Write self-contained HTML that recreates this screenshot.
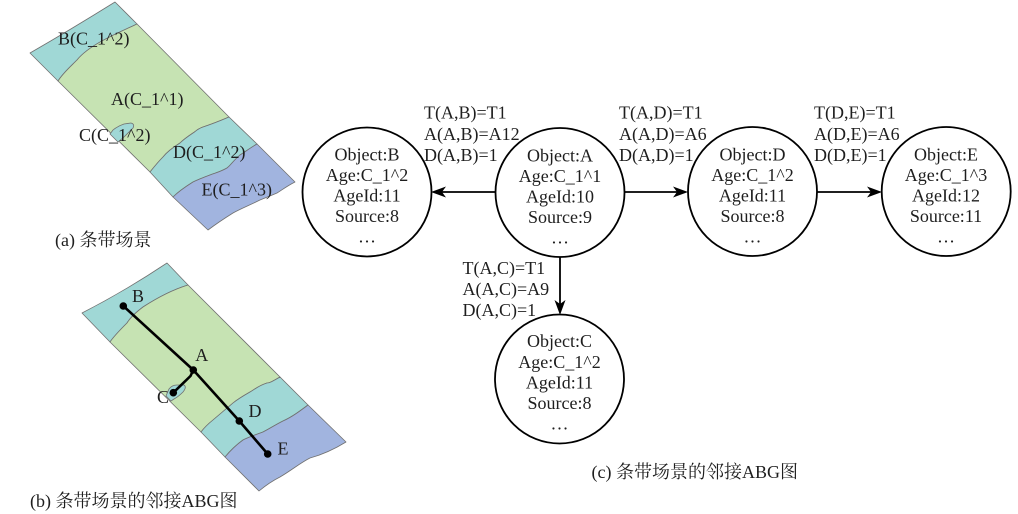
<!DOCTYPE html>
<html>
<head>
<meta charset="utf-8">
<style>
html,body{margin:0;padding:0;background:#fff;}
svg{display:block;}
text{font-family:"Liberation Serif","Noto Serif CJK SC",serif;font-size:18px;fill:#1e1e1e;}
</style>
</head>
<body>
<svg width="1018" height="514" viewBox="0 0 1018 514" xmlns="http://www.w3.org/2000/svg">
<!-- Map (a) -->
<g stroke="#707070" stroke-width="0.8" stroke-linejoin="round">
  <!-- B region (cyan) -->
  <path d="M30,53 Q70,30 115,2 L137,24 C120,32 90,44 77,60 C70,67 63,73 58,81 Z" fill="#a0d8d6"/>
  <!-- A region (green) -->
  <path d="M137,24 L229,117 C222,120 215,123 203,127 C197,129 195,132 193,133 C187,137 183,140 180,143 C172,148 167,152 163,157 C158,162 154,167 150,172 L58,81 C63,73 70,67 77,60 C90,44 120,32 137,24 Z" fill="#c6e3b3"/>
  <!-- D region (cyan) -->
  <path d="M229,117 L257,144 C250,148 245,152 240,155 C233,161 230,166 227,168 C220,172 215,173 210,175 C202,178 197,180 193,182 C185,187 178,192 173,197 L150,172 C154,167 158,162 163,157 C167,152 172,148 180,143 C183,140 187,137 193,133 C195,132 197,129 203,127 C215,123 222,120 229,117 Z" fill="#a0d8d6"/>
  <!-- E region (blue) -->
  <path d="M257,144 L295,182 C287,186 282,190 277,193 C270,196 265,198 260,200 C250,205 240,209 233,213 C225,218 216,224 208,230 L173,197 C178,192 185,187 193,182 C197,180 202,178 210,175 C215,173 220,172 227,168 C230,166 233,161 240,155 C245,152 250,148 257,144 Z" fill="#a1b4df"/>
  <!-- C blob -->
  <path d="M110,134 L113,130 Q118,126 124,124 L131,123 Q135,124 133,128 Q128,133 124,137 L118,142 Z" fill="#a0d8d6"/>
</g>
<text x="58" y="44.5">B(C_1^2)</text>
<text x="111" y="105">A(C_1^1)</text>
<text x="79" y="141">C(C_1^2)</text>
<text x="173" y="158">D(C_1^2)</text>
<text x="201.5" y="195.5">E(C_1^3)</text>
<text x="55" y="246">(a) 条带场景</text>

<!-- Map (b) -->
<g stroke="#707070" stroke-width="0.8" stroke-linejoin="round">
  <path d="M82,313 Q125,291 167,263 L188,285 C175,289 160,296 143,307 C135,313 130,318 127,323 C120,330 114,336 110,342 Z" fill="#a0d8d6"/>
  <path d="M188,285 L280,377 C273,381 270,383 267,383 C260,385 255,389 250,392 C243,396 238,399 233,403 C226,409 220,414 213,420 C208,424 204,428 201,432 L110,342 C114,336 120,330 127,323 C130,318 135,313 143,307 C160,296 175,289 188,285 Z" fill="#c6e3b3"/>
  <path d="M280,377 L308,405 C300,411 292,417 283,421 C275,425 269,429 263,432 C255,435 249,437 243,440 C236,445 230,451 225,457 L201,432 C204,428 208,424 213,420 C220,414 226,409 233,403 C238,399 243,396 250,392 C255,389 260,385 267,383 C270,383 273,381 280,377 Z" fill="#a0d8d6"/>
  <path d="M308,405 L346,442 C333,450 321,455 310,458 C300,463 292,470 280,477 C272,481 265,486 259,491 L225,457 C230,451 236,445 243,440 C249,437 255,435 263,432 C269,429 275,425 283,421 C292,417 300,411 308,405 Z" fill="#a1b4df"/>
</g>
<text x="163" y="403" text-anchor="middle">C</text>
<path d="M166,396 L169,389 Q172,385 177,385 L184,385 Q187,387 183,392 Q178,397 174,399 L171,401 Z" fill="#a0d8d6" stroke="#707070" stroke-width="0.8"/>
<g stroke="#000" stroke-width="2.6" fill="none" stroke-linejoin="round">
  <polyline points="123.3,306 193.3,370 239.3,421 267.7,454"/>
  <polyline points="193.3,370 190.5,376 173.3,392.7"/>
</g>
<g fill="#000">
  <circle cx="123.3" cy="306" r="3.8"/>
  <circle cx="193.3" cy="370" r="3.8"/>
  <circle cx="173.3" cy="392.7" r="3.8"/>
  <circle cx="239.3" cy="421" r="3.8"/>
  <circle cx="267.7" cy="454" r="3.8"/>
</g>
<text x="138" y="302" text-anchor="middle">B</text>
<text x="201.7" y="361" text-anchor="middle">A</text>
<text x="255" y="417" text-anchor="middle">D</text>
<text x="283" y="454.5" text-anchor="middle">E</text>
<text x="30" y="507">(b) 条带场景的邻接ABG图</text>

<!-- Graph (c) -->
<g stroke="#000" stroke-width="1.8" fill="none">
  <circle cx="367" cy="192" r="64.5"/>
  <circle cx="560" cy="192.5" r="64.5"/>
  <circle cx="752.5" cy="191.5" r="64.5"/>
  <circle cx="946.2" cy="191.5" r="64.5"/>
  <circle cx="559.5" cy="379" r="64.5"/>
  <line x1="495.5" y1="192" x2="440" y2="192"/>
  <line x1="624.5" y1="192" x2="680" y2="192"/>
  <line x1="817" y1="192" x2="874" y2="192"/>
  <line x1="560" y1="257" x2="560" y2="307"/>
</g>
<g fill="#000">
  <path d="M431,192 L446,186.5 L442,192 L446,197.5 Z"/>
  <path d="M688,192 L673,186.5 L677,192 L673,197.5 Z"/>
  <path d="M882,192 L867,186.5 L871,192 L867,197.5 Z"/>
  <path d="M560,315 L554.5,300 L560,304 L565.5,300 Z"/>
</g>

<g text-anchor="middle">
  <text x="367" y="160.5">Object:B</text>
  <text x="367" y="181">Age:C_1^2</text>
  <text x="367" y="201.5">AgeId:11</text>
  <text x="367" y="222">Source:8</text>
  <text x="367" y="242.5">…</text>

  <text x="560" y="161.5">Object:A</text>
  <text x="560" y="182">Age:C_1^1</text>
  <text x="560" y="202.5">AgeId:10</text>
  <text x="560" y="223">Source:9</text>
  <text x="560" y="243.5">…</text>

  <text x="752.5" y="160.5">Object:D</text>
  <text x="752.5" y="181">Age:C_1^2</text>
  <text x="752.5" y="201.5">AgeId:11</text>
  <text x="752.5" y="222">Source:8</text>
  <text x="752.5" y="242.5">…</text>

  <text x="946" y="160.5">Object:E</text>
  <text x="946" y="181">Age:C_1^3</text>
  <text x="946" y="201.5">AgeId:12</text>
  <text x="946" y="222">Source:11</text>
  <text x="946" y="242.5">…</text>

  <text x="559.5" y="347">Object:C</text>
  <text x="559.5" y="368">Age:C_1^2</text>
  <text x="559.5" y="388.5">AgeId:11</text>
  <text x="559.5" y="409">Source:8</text>
  <text x="559.5" y="429.5">…</text>
</g>

<text x="424" y="118.5">T(A,B)=T1</text>
<text x="424" y="140">A(A,B)=A12</text>
<text x="424" y="161">D(A,B)=1</text>

<text x="619" y="118.5">T(A,D)=T1</text>
<text x="619" y="140">A(A,D)=A6</text>
<text x="619" y="161">D(A,D)=1</text>

<text x="814" y="118.5">T(D,E)=T1</text>
<text x="814" y="140">A(D,E)=A6</text>
<text x="814" y="161">D(D,E)=1</text>

<text x="462.5" y="274">T(A,C)=T1</text>
<text x="462.5" y="295">A(A,C)=A9</text>
<text x="462.5" y="316">D(A,C)=1</text>

<text x="591.5" y="478">(c) 条带场景的邻接ABG图</text>
</svg>
</body>
</html>
